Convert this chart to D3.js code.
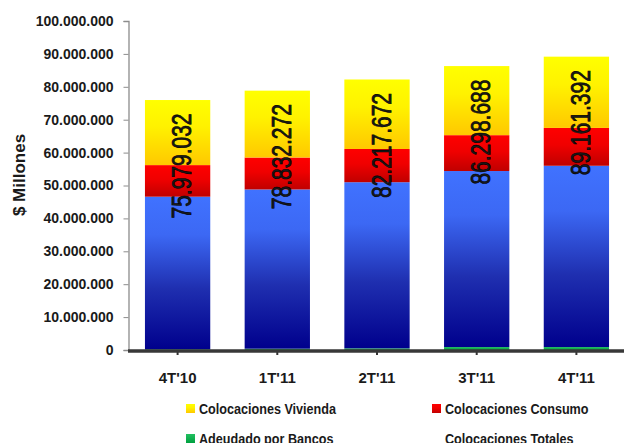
<!DOCTYPE html>
<html>
<head>
<meta charset="utf-8">
<script src="https://cdn.jsdelivr.net/npm/d3@7"></script>
<style>
  body { margin: 0; background: #fff; }
  svg text { font-family: Arial, "Liberation Sans", sans-serif; fill: #1a1a1a; }
</style>
</head>
<body>
<div id="chart"></div>
<script>
// data
const periodos = ["4T'10", "1T'11", "2T'11", "3T'11", "4T'11"];
const adeudadoBancos = [200000, 400000, 500000, 900000, 900000];
const colocComerciales = [46400000, 48400000, 50500000, 53500000, 55100000];
const colocConsumo = [9600000, 9700000, 10100000, 10900000, 11500000];
const colocVivienda = [19780000, 20330000, 21120000, 21000000, 21660000];
const colocTotales = [75979032, 78832272, 82217672, 86298688, 89161392];
const yTicks = [0, 10000000, 20000000, 30000000, 40000000, 50000000, 60000000, 70000000, 80000000, 90000000, 100000000];

const series = [
    {key: "adeudado", name: "Adeudado por Bancos", values: adeudadoBancos, fill: "url(#gGreen)"},
    {key: "comerciales", name: "Colocaciones Comerciales", values: colocComerciales, fill: "url(#gBlue)"},
    {key: "consumo", name: "Colocaciones Consumo", values: colocConsumo, fill: "url(#gRed)"},
    {key: "vivienda", name: "Colocaciones Vivienda", values: colocVivienda, fill: "url(#gYellow)"}
];

const width = 624, height = 443;
const svg = d3.select("#chart").append("svg")
    .attr("width", width)
    .attr("height", height);

// gradients
const defs = svg.append("defs");
function addGradient(id, stops) {
    const g = defs.append("linearGradient")
        .attr("id", id)
        .attr("x1", 0).attr("y1", 0).attr("x2", 0).attr("y2", 1);
    stops.forEach(s => g.append("stop").attr("offset", s[0]).attr("stop-color", s[1]));
}
addGradient("gBlue", [["0%", "#4072ff"], ["25%", "#3c68f4"], ["60%", "#1f2fb0"], ["100%", "#00008c"]]);
addGradient("gRed", [["0%", "#ff0000"], ["45%", "#f00000"], ["100%", "#c00000"]]);
addGradient("gYellow", [["0%", "#ffff00"], ["40%", "#fff200"], ["100%", "#ffc800"]]);
addGradient("gGreen", [["0%", "#22c060"], ["100%", "#00a040"]]);

// scales
const x = d3.scaleBand()
    .domain(periodos)
    .range([128, 626])
    .paddingInner(0.345)
    .paddingOuter(0.17);

const y = d3.scaleLinear()
    .domain([0, 100000000])
    .range([350, 21]);

const fmt = v => d3.format(",")(v).replace(/,/g, ".");

// y axis
const yAxis = d3.axisLeft(y)
    .tickValues(yTicks)
    .tickSize(5)
    .tickPadding(10)
    .tickFormat(fmt);

const yAxisG = svg.append("g")
    .attr("transform", "translate(128.5,0)")
    .call(yAxis);
yAxisG.select(".domain").attr("stroke", "#8c8c8c").attr("stroke-width", 1.3);
yAxisG.selectAll(".tick line").attr("stroke", "#8c8c8c");
yAxisG.selectAll(".tick text")
    .style("font-size", "14px")
    .style("font-weight", "bold")
    .attr("fill", "#1a1a1a");

// y title
svg.append("text")
    .attr("transform", "translate(19,175) rotate(-90)")
    .attr("text-anchor", "middle")
    .attr("dominant-baseline", "central")
    .style("font-size", "17px")
    .style("font-weight", "bold")
    .text("$ Millones");

// stacked bars
const table = periodos.map((p, i) => {
    const row = {periodo: p};
    series.forEach(s => row[s.key] = s.values[i]);
    return row;
});
const stacked = d3.stack().keys(series.map(s => s.key))(table);

svg.append("g")
    .selectAll("g")
    .data(stacked)
    .enter()
    .append("g")
    .attr("fill", (d, i) => series[i].fill)
    .selectAll("rect")
    .data(d => d)
    .enter()
    .append("rect")
    .attr("x", d => x(d.data.periodo))
    .attr("y", d => y(d[1]))
    .attr("width", x.bandwidth())
    .attr("height", d => y(d[0]) - y(d[1]));

// x axis
const xAxis = d3.axisBottom(x)
    .tickSize(4)
    .tickPadding(17);
const xAxisG = svg.append("g")
    .attr("transform", "translate(0,351)")
    .call(xAxis);
xAxisG.select(".domain").remove();
xAxisG.selectAll(".tick line").attr("stroke", "#333").attr("stroke-width", 2);
xAxisG.selectAll(".tick text")
    .style("font-size", "15px")
    .style("font-weight", "bold")
    .attr("fill", "#1a1a1a");
svg.append("line")
    .attr("x1", 128).attr("x2", width)
    .attr("y1", y(0) + 1).attr("y2", y(0) + 1)
    .attr("stroke", "#383838")
    .attr("stroke-width", 3.5);

// total labels, rotated inside the bars (tall, narrow, heavy digits)
svg.append("g")
    .selectAll("text")
    .data(colocTotales)
    .enter()
    .append("text")
    .attr("transform", (d, i) =>
        "translate(" + (x(periodos[i]) + x.bandwidth() / 2 + 4) + "," + (y(d) + 66) + ") rotate(-90)")
    .attr("text-anchor", "middle")
    .attr("dominant-baseline", "central")
    .attr("textLength", 105)
    .attr("lengthAdjust", "spacingAndGlyphs")
    .style("font-size", "28px")
    .attr("fill", "#000")
    .attr("stroke", "#000")
    .attr("stroke-width", 0.7)
    .text(d => fmt(d));

// legend (blue series is below the visible area in the original)
const legendItems = [
    {name: "Colocaciones Vivienda", fill: "url(#gYellow)", col: 0, row: 0},
    {name: "Colocaciones Consumo", fill: "url(#gRed)", col: 1, row: 0},
    {name: "Adeudado por Bancos", fill: "url(#gGreen)", col: 0, row: 1},
    {name: "Colocaciones Totales", fill: null, col: 1, row: 1}
];
const legend = svg.append("g");
const lg = legend.selectAll("g")
    .data(legendItems)
    .enter()
    .append("g")
    .attr("transform", d => "translate(" + (d.col === 0 ? 186 : 432) + "," + (404 + d.row * 30) + ")");
lg.filter(d => d.fill)
    .append("rect")
    .attr("width", 9)
    .attr("height", 9)
    .attr("fill", d => d.fill);
lg.append("text")
    .attr("x", 13)
    .attr("y", 9.5)
    .style("font-size", "14px")
    .style("font-weight", "bold")
    .text(d => d.name)
    .each(function () {
        // narrow the legend text a little, like the original
        const len = this.getComputedTextLength();
        d3.select(this)
            .attr("textLength", len * 0.9)
            .attr("lengthAdjust", "spacingAndGlyphs");
    });
</script>
</body>
</html>
